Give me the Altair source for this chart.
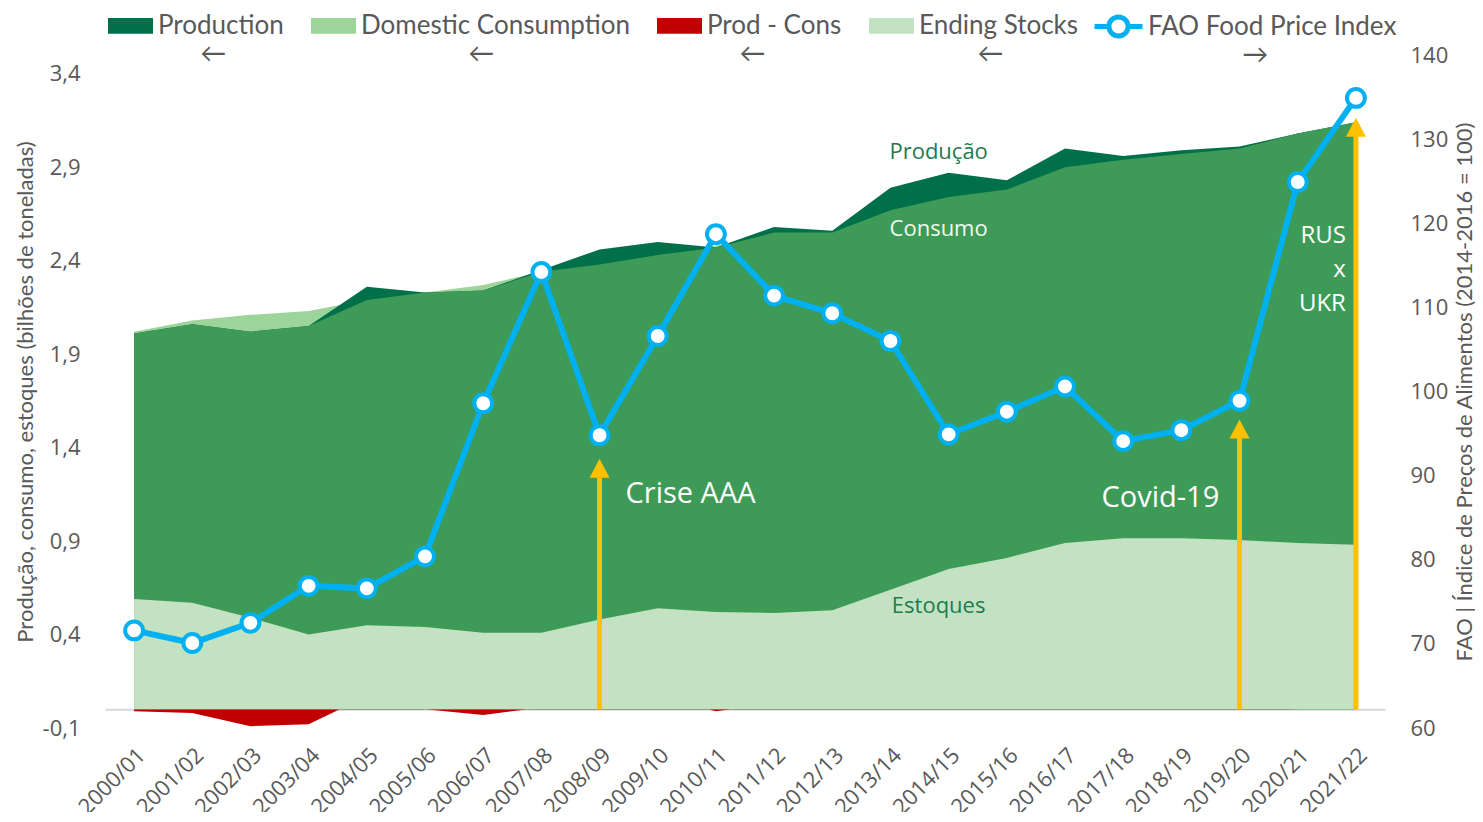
import altair as alt
import pandas as pd

# ---------------- data ----------------
years = ["2000/01", "2001/02", "2002/03", "2003/04", "2004/05", "2005/06", "2006/07",
         "2007/08", "2008/09", "2009/10", "2010/11", "2011/12", "2012/13", "2013/14",
         "2014/15", "2015/16", "2016/17", "2017/18", "2018/19", "2019/20", "2020/21",
         "2021/22"]
production = [2.01, 2.06, 2.02, 2.05, 2.26, 2.23, 2.24, 2.35, 2.46, 2.50, 2.47, 2.58,
              2.56, 2.79, 2.87, 2.83, 3.00, 2.96, 2.99, 3.01, 3.08, 3.14]
consumption = [2.02, 2.08, 2.11, 2.13, 2.19, 2.23, 2.27, 2.34, 2.38, 2.43, 2.48, 2.55,
               2.55, 2.67, 2.74, 2.78, 2.90, 2.94, 2.97, 3.00, 3.08, 3.14]
stocks = [0.59, 0.57, 0.49, 0.40, 0.45, 0.44, 0.41, 0.41, 0.48, 0.54, 0.52, 0.515,
          0.53, 0.64, 0.75, 0.81, 0.89, 0.915, 0.915, 0.905, 0.89, 0.88]
fao_index = [71.6, 70.1, 72.5, 76.9, 76.6, 80.4, 98.6, 114.2, 94.8, 106.6, 118.7, 111.4,
             109.3, 106.0, 94.9, 97.6, 100.6, 94.1, 95.4, 98.9, 124.9, 134.9]

left_ticks = [-0.1, 0.4, 0.9, 1.4, 1.9, 2.4, 2.9, 3.4]
right_ticks = [60, 70, 80, 90, 100, 110, 120, 130, 140]

area_names = ["Production", "Domestic Consumption", "Prod - Cons", "Ending Stocks"]
area_colors = ["#00704A", "#9DD49A", "#C00000", "#C3E2C1"]
line_name = "FAO Food Price Index"
legend_arrows = {"Production": "←", "Domestic Consumption": "←", "Prod - Cons": "←",
                 "Ending Stocks": "←", "FAO Food Price Index": "→"}
# horizontal shift (px) of each arrow under its legend label
arrow_shift = {"Production": 43, "Domestic Consumption": 108, "Prod - Cons": 37,
               "Ending Stocks": 62, "FAO Food Price Index": 97}

arrow_years = ["2008/09", "2019/20", "2021/22"]
arrow_tips = [1.34, 1.55, 3.165]

green_notes = ["Produção", "Estoques"]
green_notes_year = ["2014/15", "2014/15"]
green_notes_value = [2.98, 0.55]
white_notes = ["Consumo"]
white_notes_year = ["2014/15"]
white_notes_value = [2.57]
crisis_notes = ["Crise AAA"]
crisis_year = ["2008/09"]
crisis_value = [1.15]
covid_notes = ["Covid-19"]
covid_year = ["2018/19"]
covid_value = [1.13]
war_notes = ["RUS", "x", "UKR"]
war_year = ["2021/22", "2021/22", "2021/22"]
war_value = [2.53, 2.35, 2.17]

# ---------------- tables ----------------
df = pd.DataFrame({"year": years, "production": production, "consumption": consumption,
                   "stocks": stocks, "fao": fao_index})
df["overlap"] = df[["production", "consumption"]].min(axis=1)
df["diff"] = df["production"] - df["consumption"]
arrows_df = pd.DataFrame({"year": arrow_years, "tip": arrow_tips})

GRAY = "#595959"
TICK_FONT = "Open Sans"
TEXT_FONT = "Lato"

X = alt.X("year:O", sort=years, scale=alt.Scale(type="point", padding=0.5),
          axis=alt.Axis(title=None, labelAngle=-45, labelFont=TICK_FONT, labelFontSize=22,
                        labelColor=GRAY, ticks=False, domainColor="#D9D9D9", domainWidth=2,
                        offset=-18.7, labelPadding=35, grid=False))

yscale = alt.Scale(domain=[-0.1, 3.5], nice=False, zero=False)
left_axis = alt.Axis(values=left_ticks,
                     labelExpr="replace(replace(format(datum.value, '.1f'), '.', ','), '\u2212', '-')",
                     labelFont=TICK_FONT, labelFontSize=22, labelColor=GRAY,
                     ticks=False, domain=False, grid=False, labelPadding=25,
                     title="Produção, consumo, estoques (bilhões de toneladas)",
                     titleFont=TEXT_FONT, titleFontSize=22, titleFontWeight="normal",
                     titleColor=GRAY, titlePadding=5)


def YL(field):
    return alt.Y(f"{field}:Q", scale=yscale, axis=left_axis)


ZW = "\u200b"    # zero-width space keeps the following spaces from being trimmed
EN = "\u2002"    # en space (~13 px)
THIN = "\u2009"  # thin space (~5 px)


def pad(px):
    n_en = px // 13
    n_thin = round((px - 13 * n_en) / 5.2)
    return ZW + EN * n_en + THIN * n_thin


def label_expr(names):
    parts = [f"datum.label == '{n}' ? ['{n}', '{pad(arrow_shift[n])}{legend_arrows[n]}']"
             for n in names]
    return " : ".join(parts) + " : datum.label"


rect_path = "M-1,-0.35H1V0.35H-1Z"
line_path = "M-1,0H-0.4M0.4,0H1M0.4,0A0.4,0.4,0,1,1,-0.4,0A0.4,0.4,0,1,1,0.4,0"

common_legend = dict(title=None, orient="none", direction="horizontal",
                     labelFont=TEXT_FONT, labelFontSize=26, labelColor=GRAY,
                     labelLimit=500, padding=0)

area_legend = alt.Legend(legendX=3, legendY=-52, columns=4, columnPadding=27,
                         labelOffset=5,
                         symbolType=rect_path, symbolSize=2025, symbolStrokeWidth=0,
                         symbolOpacity=1, labelExpr=label_expr(area_names),
                         **common_legend)
color_scale = alt.Scale(domain=area_names, range=area_colors)


def area_color():
    return alt.Color("series:N", scale=color_scale, legend=area_legend)


base = alt.Chart(df)
cons_area = base.transform_calculate(series="'Domestic Consumption'").mark_area(opacity=1).encode(
    x=X, y=YL("consumption"), y2=alt.datum(0), color=area_color())
prod_area = base.transform_calculate(series="'Production'").mark_area(opacity=1).encode(
    x=X, y=YL("production"), y2=alt.datum(0), color=area_color())
overlap_area = base.mark_area(opacity=1, color="#3E9A57").encode(
    x=X, y=YL("overlap"), y2=alt.datum(0))
diff_area = base.transform_calculate(series="'Prod - Cons'").mark_area(opacity=1).encode(
    x=X, y=YL("diff"), y2=alt.datum(0), color=area_color())
stock_area = base.transform_calculate(series="'Ending Stocks'").mark_area(opacity=1).encode(
    x=X, y=YL("stocks"), y2=alt.datum(0), color=area_color())

arrow_rule = alt.Chart(arrows_df).mark_rule(color="#FFC000", strokeWidth=5, yOffset=10).encode(
    x=X, y=YL("tip"), y2=alt.datum(0))
arrow_head = alt.Chart(arrows_df).mark_point(
    shape="M0,0L1,1.9L-1,1.9Z", size=400, filled=True, color="#FFC000", opacity=1,
    strokeWidth=0).encode(x=X, y=YL("tip"))


def notes(texts, yrs, vals, **style):
    d = pd.DataFrame({"text": texts, "year": yrs, "value": vals})
    return alt.Chart(d).mark_text(baseline="middle", **style).encode(
        x=X, y=YL("value"), text="text:N")


t_green = notes(green_notes, green_notes_year, green_notes_value, font=TICK_FONT,
                fontSize=22, color="#1E7B50", align="center", dx=-10)
t_white = notes(white_notes, white_notes_year, white_notes_value, font=TICK_FONT,
                fontSize=22, color="#F2F8F2", align="center", dx=-10)
t_crisis = notes(crisis_notes, crisis_year, crisis_value, font=TICK_FONT,
                 fontSize=29, color="#FFFFFF", align="left", dx=26)
t_covid = notes(covid_notes, covid_year, covid_value, font=TICK_FONT,
                fontSize=29, color="#FFFFFF", align="center", dx=-21)
t_war = notes(war_notes, war_year, war_value, font=TICK_FONT,
              fontSize=24, color="#FFFFFF", align="right", dx=-10)

left = alt.layer(cons_area, prod_area, overlap_area, diff_area, stock_area,
                 arrow_rule, arrow_head, t_green, t_white, t_crisis, t_covid, t_war)

right_axis = alt.Axis(orient="right", values=right_ticks, labelFont=TICK_FONT,
                      labelFontSize=22, labelColor=GRAY, ticks=False, domain=False,
                      grid=False, labelPadding=25,
                      title="FAO | Índice de Preços de Alimentos (2014-2016 = 100)",
                      titleFont=TEXT_FONT, titleFontSize=22, titleFontWeight="normal",
                      titleColor=GRAY, titleAngle=270, titlePadding=29)
YR = alt.Y("fao:Q", scale=alt.Scale(domain=[60, 140], nice=False, zero=False), axis=right_axis)

line_legend = alt.Legend(legendX=987, legendY=-55, symbolType=line_path, symbolSize=2304,
                         symbolStrokeWidth=5, symbolFillColor="#FFFFFF",
                         symbolStrokeColor="#00B0F0", symbolOpacity=1, labelOffset=3,
                         labelExpr=label_expr([line_name]), **common_legend)
fao_line = base.transform_calculate(series=f"'{line_name}'").mark_line(strokeWidth=6).encode(
    x=X, y=YR,
    stroke=alt.Stroke("series:N", scale=alt.Scale(domain=[line_name], range=["#00B0F0"]),
                      legend=line_legend))
fao_pts = base.mark_circle(color="white", stroke="#00B0F0", strokeWidth=4, size=320,
                           opacity=1).encode(x=X, y=YR)
right = alt.layer(fao_line, fao_pts)

chart = alt.layer(left, right).resolve_scale(y="independent").properties(
    width=1280, height=673,
    autosize=alt.AutoSizeParams(type="none"),
    padding={"left": 97, "top": 47, "right": 90, "bottom": 84},
).configure_view(stroke=None)

chart.save("out.html", embed_options={"renderer": "svg", "actions": False})
